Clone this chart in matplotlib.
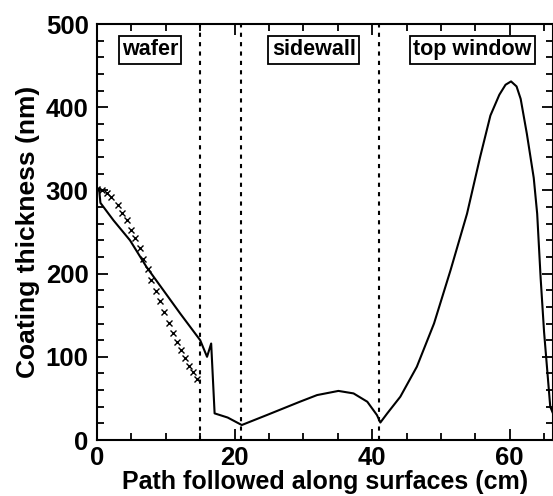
import matplotlib
matplotlib.use('Agg')
import matplotlib.pyplot as plt
from matplotlib.ticker import MultipleLocator

plt.rcParams['font.family'] = ['Liberation Sans', 'DejaVu Sans']
plt.rcParams['font.weight'] = 'bold'

# simulated coating thickness along the path
path_cm = [0, 0.3, 0.5, 2.4, 4.8, 7.2, 9.65, 12.1, 15.0, 16.0, 16.6, 17.1, 19.0, 21.05,
           24.7, 29.5, 32.0, 35.1, 37.3, 39.3, 40.7, 41.2, 42.2, 44.1, 46.5, 49.0,
           51.4, 53.8, 55.7, 57.2, 58.5, 59.4, 60.2, 61.0, 61.6, 62.5, 63.5, 64.0,
           64.5, 65.0, 65.5, 65.9, 66.3]
thickness_nm = [302, 302, 285, 264, 240, 208, 180, 152, 120, 100, 116, 32, 27, 18,
                30, 46, 54, 59, 56, 46, 30, 21, 32, 52, 88, 140,
                204, 272, 340, 390, 415, 427, 431, 425, 410, 368, 315, 272,
                195, 130, 80, 40, 32]

# measured points on the wafer
meas_cm = [0, 0.8, 1.4, 2.1, 3.0, 3.7, 4.3, 4.95, 5.5, 6.2, 6.7, 7.4, 7.9, 8.6,
           9.2, 9.75, 10.4, 11.0, 11.6, 12.2, 12.8, 13.4, 14.0, 14.5]
meas_nm = [302, 300, 297, 292, 282, 273, 264, 253, 243, 231, 218, 205, 192, 179,
           167, 154, 141, 129, 118, 108, 98, 89, 82, 73]

boundaries = [15, 21, 41]
regions = ['wafer', 'sidewall', 'top window']
region_x = [7.7, 31.5, 54.6]

fig = plt.figure(figsize=(5.53, 4.96), dpi=100)
ax = fig.add_axes([0.1754, 0.1129, 0.8246, 0.8387])

ax.plot(path_cm, thickness_nm, color='black', lw=1.5)
ax.plot(meas_cm, meas_nm, linestyle='none', marker='x', color='black', ms=5, mew=1)

for b in boundaries:
    ax.axvline(b, color='black', lw=1.5, linestyle=(0, (2, 2.5)))

for name, xc in zip(regions, region_x):
    ax.text(xc, 469, name, ha='center', va='center', fontsize=15.5, fontweight='bold',
            bbox=dict(boxstyle='square,pad=0.15', fc='white', ec='black', lw=1.3))

ax.set_xlim(0, 66.3)
ax.set_ylim(0, 500)
ax.xaxis.set_major_locator(MultipleLocator(20))
ax.xaxis.set_minor_locator(MultipleLocator(5))
ax.yaxis.set_major_locator(MultipleLocator(100))
ax.yaxis.set_minor_locator(MultipleLocator(20))
ax.tick_params(which='both', direction='in', top=True, right=True, width=1.3,
               labelsize=18.5, pad=6)
ax.tick_params(axis='x', pad=4)
ax.tick_params(which='major', length=8)
ax.tick_params(which='minor', length=5)
for s in ax.spines.values():
    s.set_linewidth(1.5)

ax.set_xlabel('Path followed along surfaces (cm)', fontsize=18, fontweight='bold', labelpad=0)
ax.set_ylabel('Coating thickness (nm)', fontsize=19, fontweight='bold', labelpad=4)

fig.savefig('out.png', dpi=100)
